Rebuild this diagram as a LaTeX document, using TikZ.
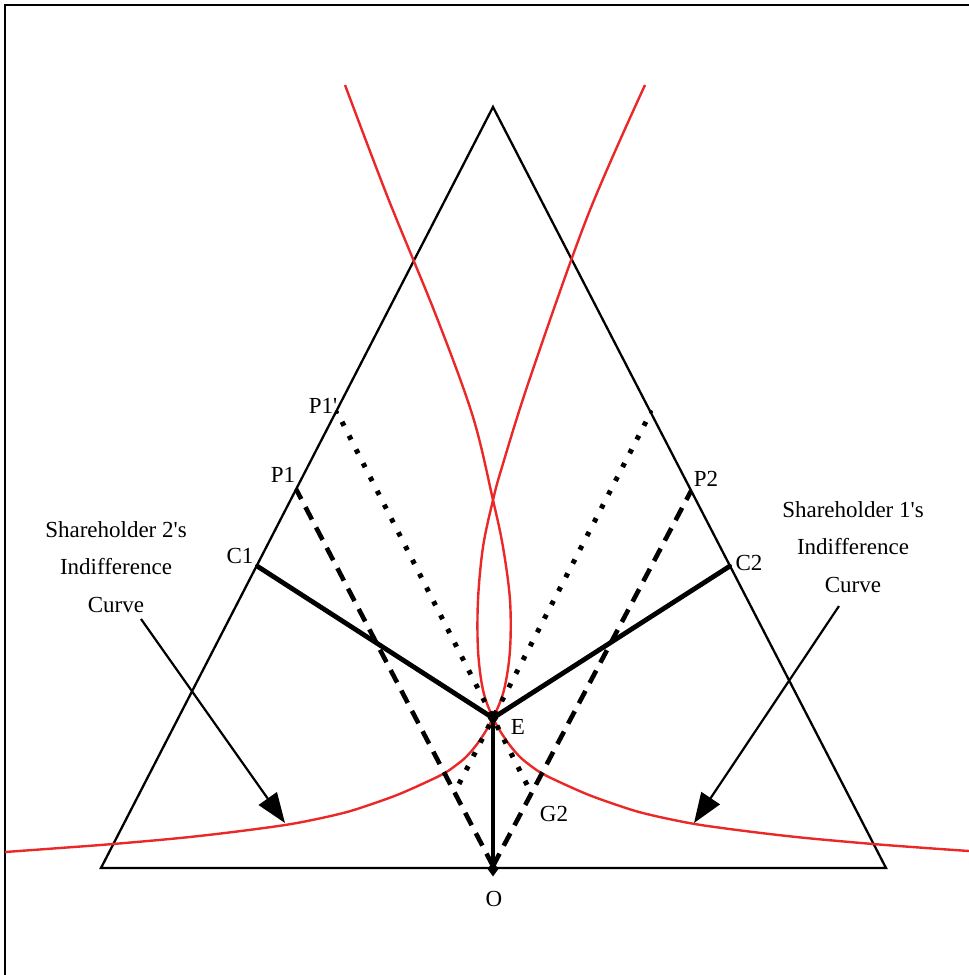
\documentclass[tikz,border=0pt]{standalone}
\usepackage{fontspec}
\setmainfont{Liberation Serif}
\usetikzlibrary{arrows.meta,shapes.geometric}
\definecolor{curvered}{RGB}{235,40,40}
\tikzset{
  tri/.style={line width=2.3pt, line join=miter},
  thickline/.style={line width=4.8pt},
  dashline/.style={line width=4.6pt, dash pattern=on 14pt off 9pt},
  dotline/.style={line width=5pt, dash pattern=on 4.5pt off 11pt},
  icurve/.style={curvered, line width=2.4pt},
  pointer/.style={line width=2.2pt, -{Triangle[length=30pt,width=22pt]}},
  lbl/.style={font=\fontsize{23}{28}\selectfont, inner sep=0pt},
  blocklbl/.style={font=\fontsize{23}{37.5}\selectfont, align=center, inner sep=0pt},
  marker/.style={shape=diamond, fill=black, inner sep=0pt, minimum width=11pt, minimum height=15pt},
  smalldot/.style={circle, fill=black, inner sep=0pt, minimum size=4pt}
}
\begin{document}
\begin{tikzpicture}[x=1pt,y=-1pt]
\useasboundingbox (0,0) rectangle (969,975);
% frame
\draw[line width=2pt] (5,980) -- (5,4.5) -- (975,4.5);

% key points
\coordinate (A) at (493,107);
\coordinate (L) at (101,868);
\coordinate (R) at (886,868);
\coordinate (O) at (493,866);
\coordinate (E) at (493,718);
\coordinate (C1) at (257,566);
\coordinate (C2) at (730,566);
\coordinate (P1) at (296,489);
\coordinate (P2) at (691,491);
\coordinate (P1p) at (337,412);
\coordinate (P2p) at (651,412);
\coordinate (G2) at (intersection of P1p--E and O--P2);
\coordinate (G1) at (intersection of P2p--E and O--P1);

% triangle
\draw[tri] (A) -- (L) -- (R) -- cycle;

% indifference curves
% shareholder 1: top-right branch, left bulge, E, lower right
\draw[icurve] plot[smooth, tension=0.55] coordinates {
 (645,85) (588,215) (530,378) (502,467) (493,500) (483,547) (478,600)
 (478,650) (483,690) (493,718) (506,740) (519,756) (531,766) (543,774)
 (566,785) (589,795) (614,804) (639,812) (669,819) (701,825) (753,832)
 (806,838) (873,844) (926,848) (969,851)};
% shareholder 2: top-left branch, right bulge, E, lower left
\draw[icurve] plot[smooth, tension=0.55] coordinates {
 (345,85) (388,198) (437,318) (473,417) (493,500) (503,547) (510,600)
 (510,650) (504,690) (493,718) (480,740) (467,756) (455,766) (443,774)
 (420,785) (397,795) (372,804) (347,812) (317,819) (285,825) (233,832)
 (180,838) (113,844) (60,848) (5,852)};

% dashed and dotted lines
\draw[dashline] (O) -- (P1);
\draw[dashline] (O) -- (P2);
\draw[dotline, shorten <=11pt] (P1p) -- (G2);
\draw[dotline, shorten <=11pt] (P2p) -- (G1);

% thick lines
\draw[thickline] (C1) -- (E);
\draw[thickline] (C2) -- (E);
\draw[thickline] (E) -- (O);

% markers
\node[marker] (mE) at (E) {};
\node[marker] (mO) at ([yshift=-3pt]O) {};
\node[smalldot] (dC1) at (C1) {};
\node[smalldot] (dC2) at (C2) {};
\node[smalldot] (dP1p) at (P1p) {};
\node[smalldot] (dP2p) at (P2p) {};

% labels
\node[lbl] (lP1p) at (323,406) {P1\textquotesingle};
\node[lbl] (lP1) at (283,475) {P1};
\node[lbl] (lC1) at (240,556) {C1};
\node[lbl] (lP2) at (706,479) {P2};
\node[lbl] (lC2) at (749,563) {C2};
\node[lbl] (lE) at (518,727) {E};
\node[lbl] (lG2) at (554,814) {G2};
\node[lbl] (lO) at (494,899) {O};

% shareholder text blocks and pointers
\node[blocklbl] (s2) at (116,567) {Shareholder 2\textquotesingle s\\Indifference\\Curve};
\node[blocklbl] (s1) at (853,547) {Shareholder 1\textquotesingle s\\Indifference\\Curve};
\coordinate (s2start) at (141,619);
\coordinate (s1start) at (839,606);
\coordinate (s2tip) at (285,823);
\coordinate (s1tip) at (694,823);
\draw[pointer] (s2start) -- (s2tip);
\draw[pointer] (s1start) -- (s1tip);
\end{tikzpicture}
\end{document}
